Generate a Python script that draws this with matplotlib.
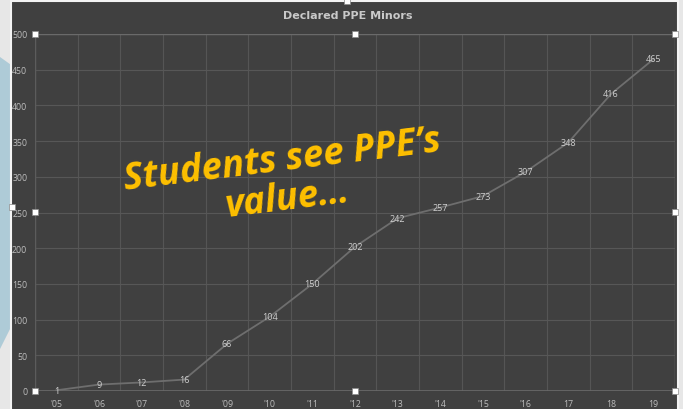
import matplotlib.pyplot as plt
from matplotlib.patches import Rectangle, Polygon

# data
years = ["'05", "'06", "'07", "'08", "'09", "'10", "'11", "'12",
         "'13", "'14", "'15", "'16", "17", "18", "19"]
minors = [1, 9, 12, 16, 66, 104, 150, 202, 242, 257, 273, 307, 348, 416, 465]
y_ticks = list(range(0, 501, 50))

W, H = 683, 410
fig = plt.figure(figsize=(W / 100, H / 100), dpi=100, facecolor='#e7e7e7')


def px(x, y):
    # pixel coords (origin top-left) -> figure fraction
    return x / W, 1 - y / H


# light blue shape peeking out on the left
fig.add_artist(Polygon([px(0, 58), px(14, 68), px(14, 322), px(0, 350)],
                       closed=True, transform=fig.transFigure,
                       facecolor='#aecbd7', edgecolor='none', zorder=0))

# chart area
x0, y0 = px(11, 2)
x1, y1 = px(678, 412)
fig.add_artist(Rectangle((x0, y1), x1 - x0, y0 - y1, transform=fig.transFigure,
                         facecolor='#404040', edgecolor='#f4f4f4', lw=1.5, zorder=1))

ax = fig.add_axes([35 / W, 18 / H, 640 / W, 357 / H])
ax.set_facecolor('#404040')
ax.set_zorder(2)

xs = list(range(len(years)))
ax.plot(xs, minors, color='#6e6e6e', lw=1.3, zorder=3)
for x, v in zip(xs, minors):
    ax.text(x, v, str(v), ha='center', va='center', fontsize=6.5,
            family='Open Sans', color='#d0d0d0', zorder=4)

ax.set_xlim(-0.5, len(years) - 0.5)
ax.set_ylim(0, 500)
ax.set_yticks(y_ticks)
ax.set_xticks(xs)
ax.set_xticklabels(years)
ax.set_xticks([i - 0.5 for i in range(len(years) + 1)], minor=True)
ax.tick_params(axis='both', which='both', length=0, labelsize=6.3, colors='#bdbdbd')
ax.tick_params(axis='y', pad=5.5)
ax.tick_params(axis='x', pad=6)
for lab in ax.get_xticklabels() + ax.get_yticklabels():
    lab.set_family('Open Sans')
ax.grid(True, axis='y', color='#575757', lw=0.8)
ax.grid(True, axis='x', which='minor', color='#555555', lw=0.8)
for s in ax.spines.values():
    s.set_visible(False)
ax.axhline(0, color='#6a6a6a', lw=1.2, zorder=2)
ax.axvline(-0.5, color='#5c5c5c', lw=1.0, zorder=2)
ax.axvline(len(years) - 0.5, color='#6a6a6a', lw=1.0, zorder=2)
ax.axhline(500, color='#6a6a6a', lw=1.0, zorder=2)

fig.text(348 / W, 1 - 16 / H, 'Declared PPE Minors', ha='center', va='center',
         fontsize=8, fontweight='bold', color='#c9c9c9', zorder=5)

# overlay annotation
fig.text(285 / W, 1 - 180 / H, "Students see PPE\u2019s\nvalue\u2026", ha='center', va='center',
         fontsize=26.5, fontweight='bold', fontstyle='italic', family='Open Sans',
         color='#ffc000', rotation=7, linespacing=1.02, zorder=6)

# selection handles
handles = [(35, 35), (355, 35), (675, 35), (35, 213), (675, 213),
           (35, 392), (355, 392), (675, 392), (12, 208), (347, 2)]
for hx, hy in handles:
    cx, cy = px(hx - 3, hy + 3)
    fig.add_artist(Rectangle((cx, cy), 6 / W, 6 / H, transform=fig.transFigure,
                             facecolor='white', edgecolor='#8a8a8a', lw=0.5, zorder=7))

fig.savefig('out.png', dpi=100, facecolor=fig.get_facecolor())
